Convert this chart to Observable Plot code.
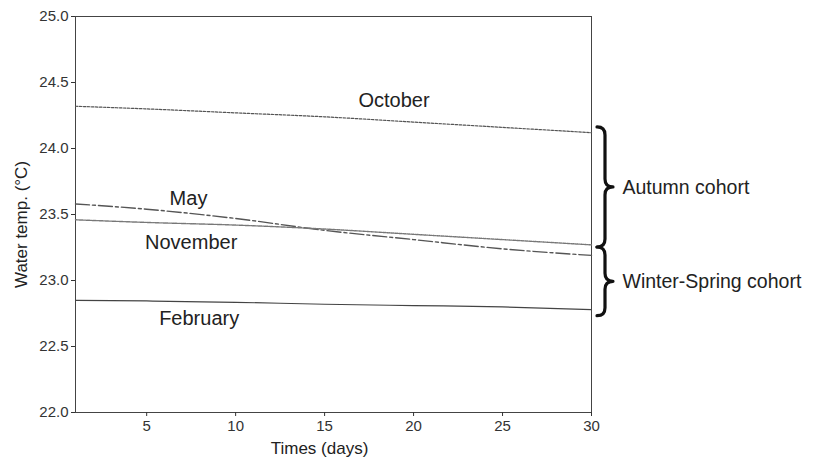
<!DOCTYPE html>
<html>
<head>
<meta charset="utf-8">
<script src="https://cdn.jsdelivr.net/npm/d3@7"></script>
<script src="https://cdn.jsdelivr.net/npm/@observablehq/plot@0.6"></script>
<style>
  html, body { margin: 0; padding: 0; background: #fff; }
  #chart { width: 814px; height: 458px; }
</style>
</head>
<body>
<div id="chart"></div>
<script>
// ---- data ----
const days = [1, 5, 10, 15, 20, 25, 30];
const october  = [24.32, 24.30, 24.27, 24.24, 24.20, 24.16, 24.12];
const may      = [23.58, 23.54, 23.47, 23.38, 23.31, 23.24, 23.19];
const november = [23.46, 23.44, 23.42, 23.39, 23.35, 23.31, 23.27];
const february = [22.85, 22.845, 22.835, 22.82, 22.81, 22.80, 22.78];

const seriesNames = ["October", "May", "November", "February"];
const labelDays   = [18.9, 7.35, 7.5, 7.95];
const labelTemps  = [24.36, 23.62, 23.29, 22.71];

const cohortNames  = ["Autumn cohort", "Winter-Spring cohort"];
const cohortTop    = [24.16, 23.25];
const cohortBottom = [23.25, 22.73];

const xTicks = [5, 10, 15, 20, 25, 30];
const yTicks = [22.0, 22.5, 23.0, 23.5, 24.0, 24.5, 25.0];

// ---- build tables ----
const seriesValues = [october, may, november, february];
const rows = [];
seriesNames.forEach((name, s) => days.forEach((d, i) => rows.push({series: name, day: d, temp: seriesValues[s][i]})));
const labels = seriesNames.map((name, i) => ({name, day: labelDays[i], temp: labelTemps[i]}));
const cohorts = cohortNames.map((name, i) => ({name, top: cohortTop[i], bottom: cohortBottom[i], mid: (cohortTop[i] + cohortBottom[i]) / 2, day: 30}));

const styles = {
  October:  {stroke: "#555", dash: "2.5,1.5", width: 1.2},
  May:      {stroke: "#555", dash: "14,3,3,3", width: 1.4},
  November: {stroke: "#777", dash: "1,1", width: 1.4},
  February: {stroke: "#444", dash: null, width: 1.2}
};

const lineMarks = seriesNames.map(name => Plot.line(rows.filter(r => r.series === name), {
  x: "day", y: "temp", stroke: styles[name].stroke, strokeWidth: styles[name].width,
  strokeDasharray: styles[name].dash, curve: "monotone-x"
}));

// brace mark (custom render using the plot's scales)
function braces(index, scales) {
  const ns = "http://www.w3.org/2000/svg";
  const g = document.createElementNS(ns, "g");
  for (const c of cohorts) {
    const x0 = scales.x(c.day) + 6;
    const xs = x0 + 8, xt = x0 + 16;
    const yT = scales.y(c.top), yM = scales.y(c.mid), yB = scales.y(c.bottom);
    const r = 8;
    const d = `M${x0},${yT} Q${xs},${yT} ${xs},${yT + r} L${xs},${yM - r} Q${xs},${yM} ${xt},${yM} ` +
              `Q${xs},${yM} ${xs},${yM + r} L${xs},${yB - r} Q${xs},${yB} ${x0},${yB}`;
    const p = document.createElementNS(ns, "path");
    p.setAttribute("d", d);
    p.setAttribute("fill", "none");
    p.setAttribute("stroke", "#111");
    p.setAttribute("stroke-width", "3.2");
    p.setAttribute("stroke-linejoin", "round");
    p.setAttribute("stroke-linecap", "round");
    g.appendChild(p);
  }
  return g;
}

const chart = Plot.plot({
  width: 814,
  height: 458,
  marginLeft: 75,
  marginRight: 223,
  marginTop: 16,
  marginBottom: 46,
  style: {fontFamily: "'Liberation Sans', Arial, sans-serif", fontSize: "15px", color: "#333", background: "#fff", overflow: "visible"},
  x: {domain: [1, 30]},
  y: {domain: [22, 25]},
  marks: [
    Plot.frame({stroke: "#444", strokeWidth: 1}),
    Plot.axisX({ticks: xTicks, tickSize: 4, tickPadding: 4, label: null, fontSize: 15}),
    Plot.axisY({ticks: yTicks, tickSize: 4, tickPadding: 3, tickFormat: d3.format(".1f"), label: null, fontSize: 15}),
    ...lineMarks,
    Plot.text(labels, {x: "day", y: "temp", text: "name", fontSize: 20, fill: "#222", textAnchor: "middle"}),
    braces,
    Plot.text(cohorts, {x: "day", y: "mid", text: "name", dx: 31, textAnchor: "start", fontSize: 19.5, fill: "#222"}),
    Plot.text(["Water temp. (°C)"], {frameAnchor: "left", textAnchor: "middle", dx: -54, dy: 10, rotate: -90, fontSize: 17, fill: "#222"}),
    Plot.text(["Times (days)"], {frameAnchor: "bottom", textAnchor: "middle", dy: 41, dx: -14, fontSize: 17, fill: "#222"})
  ]
});
document.getElementById("chart").appendChild(chart);
</script>
</body>
</html>
